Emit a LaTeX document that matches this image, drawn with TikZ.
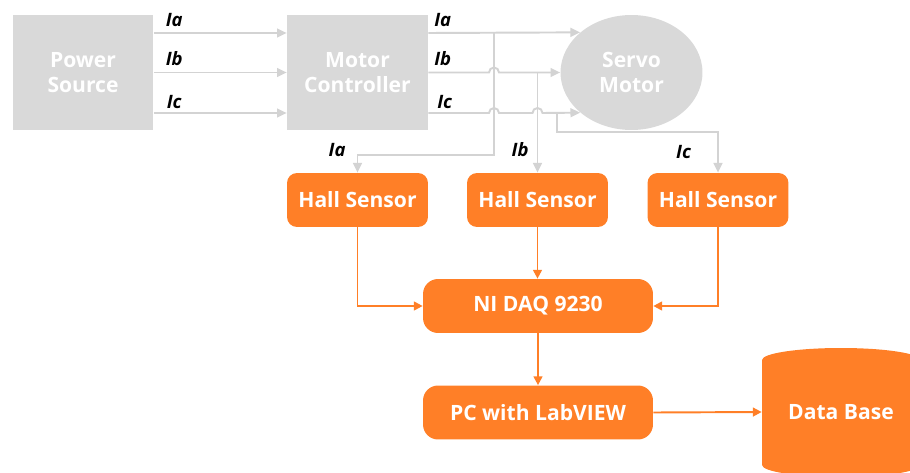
\documentclass[tikz,border=0pt]{standalone}
\usepackage{fontspec}
\setmainfont{Open Sans}
\usepackage{tikz}
\usetikzlibrary{arrows.meta, positioning, shapes.geometric, calc}
\definecolor{boxgray}{HTML}{D9D9D9}
\definecolor{linegray}{HTML}{D3D3D3}
\definecolor{daqorange}{HTML}{FF7F27}

\begin{document}
\begin{tikzpicture}[x=0.02cm, y=-0.02cm, >=Stealth,
    font=\fontsize{12}{14}\selectfont\bfseries]
  \tikzset{
    plant/.style={fill=boxgray, text=white, align=center, inner sep=0pt,
      minimum width=2.82cm, minimum height=2.3cm},
    sensor/.style={fill=daqorange, text=white, rounded corners=0.2cm,
      minimum width=2.82cm, minimum height=1.08cm, inner sep=0pt},
    station/.style={sensor, rounded corners=0.3cm, minimum width=4.6cm},
    gline/.style={draw=linegray, line width=1.1pt,
      -{Triangle[length=5.5pt, width=5pt]}},
    oline/.style={draw=daqorange, line width=1.1pt,
      -{Triangle[length=5pt, width=5pt]}},
    phase/.style={font=\fontsize{10.5}{12}\selectfont\bfseries\itshape,
      inner sep=0pt, text=black},
  }
  \clip (0,0) rectangle (910,473);

  % motor side
  \node[plant] (PS) at (83,72.5) {Power\\Source};
  \node[plant] (MC) at (357.5,72.5) {Motor\\Controller};
  \node[plant, ellipse, minimum width=2.84cm] (SM) at (631.5,72.5)
    {Servo\\Motor};

  % acquisition side
  \node[sensor] (HS1) at (357.5,200) {Hall Sensor};
  \node[sensor] (HS2) at (537.5,200) {Hall Sensor};
  \node[sensor] (HS3) at (718,200) {Hall Sensor};
  \node[station] (DAQ) at (538,306) {NI DAQ 9230};
  \node[station] (PC) at (538,412.5) {PC with LabVIEW};

  % data base drum
  \fill[daqorange] (762,360)
    arc[start angle=180, end angle=0, x radius=1.58cm, y radius=0.24cm]
    -- (920,465)
    arc[start angle=0, end angle=-180, x radius=1.58cm, y radius=0.24cm]
    -- cycle;
  \node[text=white, minimum width=3.16cm, minimum height=2.2cm,
    inner sep=0pt] (DB) at (841,412) {Data Base};

  % three phases into the controller
  \draw[gline] ($(PS.east)+(0,-39.5)$) -- ($(MC.west)+(0,-39.5)$)
    node[phase, pos=0, anchor=south west, xshift=0.22cm, yshift=0.1cm] {Ia};
  \draw[gline] (PS.east) -- (MC.west)
    node[phase, pos=0, anchor=south west, xshift=0.22cm, yshift=0.12cm] {Ib};
  \draw[gline] ($(PS.east)+(0,40.5)$) -- ($(MC.west)+(0,40.5)$)
    node[phase, pos=0, anchor=south west, xshift=0.24cm, yshift=0.06cm] {Ic};

  % taps on the motor leads
  \coordinate (tapA) at (494,33);
  \coordinate (bendA) at (494,155);
  \coordinate (tapB) at (537.5,72.5);
  \coordinate (tapC) at (557,113);
  \coordinate (bendC) at (557,132);

  % controller to motor, with hops over the taps
  \draw[gline] ($(MC.east)+(0,-39.5)$)
    node[phase, anchor=south west, xshift=0.1cm, yshift=0.1cm] {Ia}
    -- (SM.142.6);
  \draw[gline] (MC.east)
    node[phase, anchor=south west, xshift=0.1cm, yshift=0.12cm] {Ib}
    -- ($(bendA |- MC.east)+(-5,0)$)
    arc[start angle=180, end angle=0, radius=0.1cm] -- (SM.west);
  \draw[gline] ($(MC.east)+(0,40.5)$)
    node[phase, anchor=south west, xshift=0.16cm, yshift=0.06cm] {Ic}
    -- ($(bendA |- tapC)+(-5,0)$)
    arc[start angle=180, end angle=0, radius=0.1cm]
    -- ($(tapB |- tapC)+(-5,0)$)
    arc[start angle=180, end angle=0, radius=0.1cm] -- (SM.218.8);

  \draw[gline] (tapA) -- (bendA) -| (HS1.north)
    node[phase, pos=0.75, anchor=south east, xshift=-0.22cm, yshift=0.12cm] {Ia};
  \draw[gline] (tapB) -- (HS2.north)
    node[phase, pos=0.77, anchor=east, xshift=-0.16cm] {Ib};
  \draw[gline] (tapC) -- (bendC) -| (HS3.north)
    node[phase, pos=0.75, anchor=east, xshift=-0.52cm] {Ic};

  % signal path
  \draw[oline] (HS1.south) |- (DAQ.west);
  \draw[oline] (HS2.south) -- (HS2.south |- DAQ.north);
  \draw[oline] (HS3.south) |- (DAQ.east);
  \draw[oline] (DAQ.south) -- (PC.north);
  \draw[oline] (PC.east) -- (DB.west);
\end{tikzpicture}
\end{document}
